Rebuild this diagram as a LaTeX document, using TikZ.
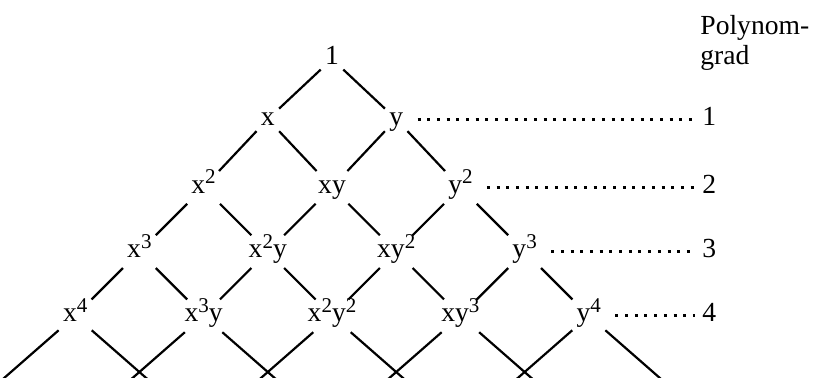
\documentclass[tikz,border=0pt]{standalone}
\usepackage{fontspec}
\setmainfont{Liberation Serif}
\usepackage{tikz}
\newcommand{\hoch}[1]{\raisebox{4.8pt}{\fontsize{10.5}{10.5}\selectfont #1}}

\begin{document}
\begin{tikzpicture}[node distance=45.4pt, every node/.style={font=\fontsize{13.8}{15}\selectfont}]
  \tikzstyle{term}=[inner sep=2pt, text height=9pt, text depth=3pt]
  \tikzstyle{link}=[line width=1.1pt]
  \tikzstyle{guide}=[line width=1.5pt, dash pattern=on 1.5pt off 3.35pt, shorten <=5pt, shorten >=1.5pt]
  \useasboundingbox (0,0) rectangle (409.5pt,-189pt);
  \clip (0,0) rectangle (409.5pt,-189pt);
  \coordinate (gradx) at (349pt,0);
  \node[term] (one) at (166pt,-29.5pt) {1};
  \node[term, below left of=one, yshift=2pt] (x) {x};
  \node[term, below right of=one, yshift=2pt] (y) {y};
  \node[term, below left of=x, yshift=-2pt] (x2) {x\hoch{2}};
  \node[term, below right of=x, yshift=-2pt] (xy) {xy};
  \node[term, below right of=y, yshift=-2pt] (y2) {y\hoch{2}};
  \node[term, below left of=x2] (x3) {x\hoch{3}};
  \node[term, below right of=x2] (x2y) {x\hoch{2}y};
  \node[term, below right of=xy] (xy2) {xy\hoch{2}};
  \node[term, below right of=y2] (y3) {y\hoch{3}};
  \node[term, below left of=x3] (x4) {x\hoch{4}};
  \node[term, below right of=x3] (x3y) {x\hoch{3}y};
  \node[term, below right of=x2y] (x2y2) {x\hoch{2}y\hoch{2}};
  \node[term, below right of=xy2] (xy3) {xy\hoch{3}};
  \node[term, below right of=y3] (y4) {y\hoch{4}};
  \coordinate[below left of=x4, yshift=4pt] (e0);
  \coordinate[below right of=x4, yshift=4pt] (e1);
  \coordinate[below right of=x3y, yshift=4pt] (e2);
  \coordinate[below right of=x2y2, yshift=4pt] (e3);
  \coordinate[below right of=xy3, yshift=4pt] (e4);
  \coordinate[below right of=y4, yshift=4pt] (e5);
  % degree column
  \node[anchor=north west, align=left, inner sep=0pt] (title) at (350pt,-7.3pt) {Polynom-\\grad};
  \node[term, anchor=west] (g1) at (y -| gradx) {1};
  \node[term, anchor=west] (g2) at (y2 -| gradx) {2};
  \node[term, anchor=west] (g3) at (y3 -| gradx) {3};
  \node[term, anchor=west] (g4) at (y4 -| gradx) {4};
  \draw[guide] (y) -- (g1);
  \draw[guide] (y2) -- (g2);
  \draw[guide] (y3) -- (g3);
  \draw[guide] (y4) -- (g4);
  % triangle
  \draw[link] (one) -- (x);
  \draw[link] (one) -- (y);
  \draw[link] (x) -- (x2);
  \draw[link] (x) -- (xy);
  \draw[link] (y) -- (xy);
  \draw[link] (y) -- (y2);
  \draw[link] (x2) -- (x3);
  \draw[link] (x2) -- (x2y);
  \draw[link] (xy) -- (x2y);
  \draw[link] (xy) -- (xy2);
  \draw[link] (y2) -- (xy2);
  \draw[link] (y2) -- (y3);
  \draw[link] (x3) -- (x4);
  \draw[link] (x3) -- (x3y);
  \draw[link] (x2y) -- (x3y);
  \draw[link] (x2y) -- (x2y2);
  \draw[link] (xy2) -- (x2y2);
  \draw[link] (xy2) -- (xy3);
  \draw[link] (y3) -- (xy3);
  \draw[link] (y3) -- (y4);
  \draw[link, shorten >=-12pt] (x4) -- (e0);
  \draw[link, shorten >=-12pt] (x4) -- (e1);
  \draw[link, shorten >=-12pt] (x3y) -- (e1);
  \draw[link, shorten >=-12pt] (x3y) -- (e2);
  \draw[link, shorten >=-12pt] (x2y2) -- (e2);
  \draw[link, shorten >=-12pt] (x2y2) -- (e3);
  \draw[link, shorten >=-12pt] (xy3) -- (e3);
  \draw[link, shorten >=-12pt] (xy3) -- (e4);
  \draw[link, shorten >=-12pt] (y4) -- (e4);
  \draw[link, shorten >=-12pt] (y4) -- (e5);
\end{tikzpicture}
\end{document}
